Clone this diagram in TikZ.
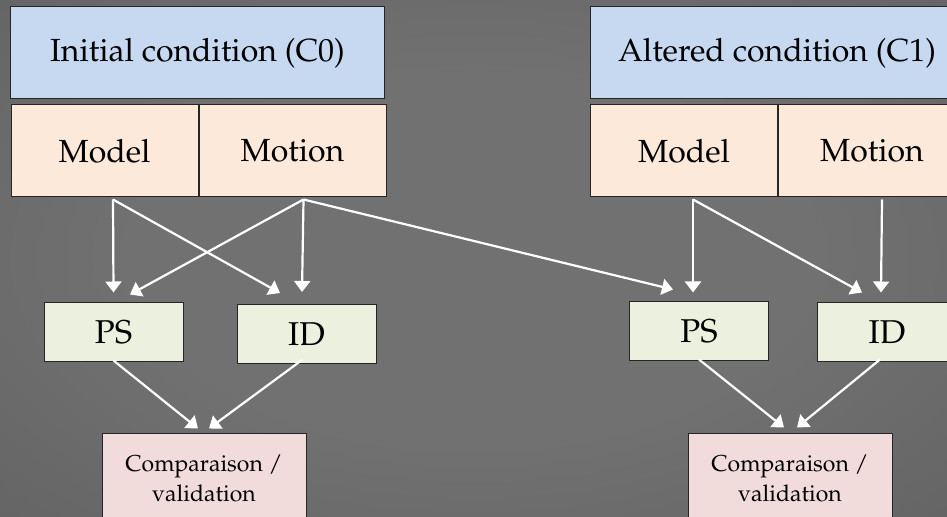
\documentclass[tikz,border=0pt]{standalone}
\usepackage[T1]{fontenc}
\IfFileExists{mathpazo.sty}{\usepackage{mathpazo}}{}
\usepackage{xcolor}
\usetikzlibrary{arrows.meta,positioning}
\definecolor{condblue}{HTML}{C6D9F1}
\definecolor{partorange}{HTML}{FDE9D9}
\definecolor{resgreen}{HTML}{EBF1DE}
\definecolor{comppink}{HTML}{F2DCDB}
\definecolor{bgin}{HTML}{717171}
\definecolor{bgout}{HTML}{4C4C4C}
\pgfdeclareradialshading{bgshade}{\pgfpoint{0bp}{0bp}}{color(0bp)=(bgin); color(18bp)=(bgin); color(71bp)=(bgout)}

\begin{document}
\begin{tikzpicture}[x=0.5pt,y=-0.5pt,
box/.style={draw=black!85,line width=0.5pt,inner sep=0pt},
cond/.style={box,fill=condblue,minimum width=187pt,minimum height=46pt,font=\fontsize{16}{19}\selectfont},
part/.style={box,fill=partorange,minimum width=93.5pt,minimum height=46pt,font=\fontsize{16}{19}\selectfont},
res/.style={box,fill=resgreen,minimum width=69.5pt,minimum height=29.5pt,font=\fontsize{16.5}{20}\selectfont},
comp/.style={box,fill=comppink,minimum width=102pt,minimum height=44pt,align=center,font=\fontsize{11.5}{15}\selectfont},
arr/.style={draw=white,line width=1.1pt,-{Triangle[length=5.5pt,width=8pt]}}]
\useasboundingbox (0,0) rectangle (947,517);
\clip (0,0) rectangle (947,517);
\shade[shading=bgshade] (0,0) rectangle (947,517);

% initial condition
\node[cond] (cond0) at (197.5,53) {Initial condition (C0)};
\node[part] (model0) at (104.5,151) {Model};
\node[part,right=0pt of model0] (motion0) {Motion};
\node[res] (ps0) at (113.5,332.5) {PS};
\node[res] (id0) at (306.5,334) {ID};
\node[comp] (comp0) at (204,478) {Comparaison /\\validation};

% altered condition
\node[cond] (cond1) at (777,53) {Altered condition (C1)};
\node[part] (model1) at (684,151) {Model};
\node[part,right=0pt of model1] (motion1) {Motion};
\node[res] (ps1) at (699,331.5) {PS};
\node[res] (id1) at (887,332.5) {ID};
\node[comp] (comp1) at (790,478) {Comparaison /\\validation};

\coordinate (mo0) at ([xshift=4.25pt,yshift=-1pt]model0.south);
\coordinate (mt0) at ([xshift=5.5pt,yshift=-1pt]motion0.south);
\coordinate (mo1) at ([xshift=4.5pt,yshift=-1pt]model1.south);
\coordinate (mt1) at ([xshift=5pt,yshift=-1pt]motion1.south);

\draw[arr] (mo0) -- ([yshift=5pt]ps0.north);
\draw[arr] (mt0) -- ([xshift=8.25pt,yshift=4pt]ps0.north);
\draw[arr] (mo0) -- ([xshift=-13.25pt,yshift=5.5pt]id0.north);
\draw[arr] (mt0) -- ([xshift=-2.25pt,yshift=6pt]id0.north);
\draw[arr] (mt0) -- ([xshift=-13pt,yshift=6pt]ps1.north);
\draw[arr] (mo1) -- ([xshift=-3pt,yshift=4.5pt]ps1.north);
\draw[arr] (mo1) -- ([xshift=-12.5pt,yshift=5pt]id1.north);
\draw[arr] (mt1) -- ([xshift=-3pt,yshift=5pt]id1.north);

\draw[arr] ([yshift=1pt]ps0.south) -- ([xshift=-3pt,yshift=2.5pt]comp0.north);
\draw[arr] ([xshift=-2.25pt,yshift=2pt]id0.south) -- ([xshift=2.5pt,yshift=2.5pt]comp0.north);
\draw[arr] ([yshift=1pt]ps1.south) -- ([xshift=-3pt,yshift=3pt]comp1.north);
\draw[arr] ([xshift=-3.5pt,yshift=1.5pt]id1.south) -- ([xshift=3.5pt,yshift=3pt]comp1.north);
\end{tikzpicture}
\end{document}
